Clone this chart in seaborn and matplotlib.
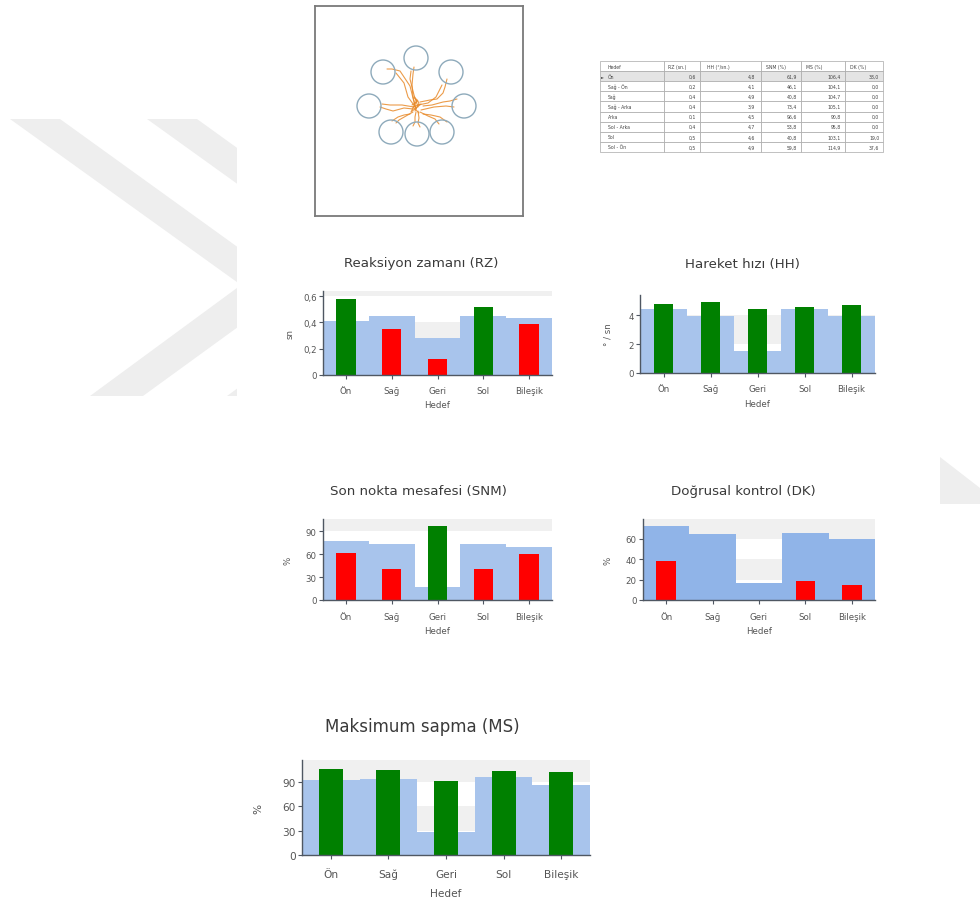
import matplotlib
matplotlib.use("Agg")
import matplotlib.pyplot as plt
from matplotlib.patches import Polygon, Rectangle, Circle
from matplotlib.ticker import FuncFormatter, FixedLocator
import numpy as np
import pandas as pd
import seaborn as sns

# ---------------------------------------------------------------- data
hedefler = ["Ön", "Sağ", "Geri", "Sol", "Bileşik"]

rz_norm = [0.41, 0.45, 0.28, 0.45, 0.43]
rz_deger = [0.58, 0.35, 0.12, 0.52, 0.39]
rz_durum = ["iyi", "zayıf", "zayıf", "iyi", "zayıf"]
rz_ticks = [0, 0.2, 0.4, 0.6]

hh_norm = [4.41, 3.95, 1.55, 4.41, 3.95]
hh_deger = [4.76, 4.92, 4.46, 4.57, 4.69]
hh_durum = ["iyi", "iyi", "iyi", "iyi", "iyi"]
hh_ticks = [0, 2, 4]

snm_norm = [77.3, 73.8, 17.6, 73.8, 69.4]
snm_deger = [61.9, 40.8, 96.6, 40.8, 59.7]
snm_durum = ["zayıf", "zayıf", "iyi", "zayıf", "zayıf"]
snm_ticks = [0, 30, 60, 90]

dk_norm = [72.1, 64.3, 16.7, 65.6, 60.0]
dk_deger = [38.0, 0.0, 0.0, 19.0, 15.1]
dk_durum = ["zayıf", "zayıf", "zayıf", "zayıf", "zayıf"]
dk_ticks = [0, 20, 40, 60]

ms_norm = [92.0, 94.1, 28.6, 96.2, 85.9]
ms_deger = [106.4, 104.7, 90.8, 103.1, 102.3]
ms_durum = ["iyi", "iyi", "iyi", "iyi", "iyi"]
ms_ticks = [0, 30, 60, 90]

# per-direction summary table
tablo_basliklar = ["Hedef", "RZ (sn.)", "HH (°/sn.)", "SNM (%)", "MS (%)", "DK (%)"]
tablo_hedefler = ["Ön", "Sağ - Ön", "Sağ", "Sağ - Arka", "Arka", "Sol - Arka", "Sol", "Sol - Ön"]
tablo_rz = ["0,6", "0,2", "0,4", "0,4", "0,1", "0,4", "0,5", "0,5"]
tablo_hh = ["4,8", "4,1", "4,9", "3,9", "4,5", "4,7", "4,6", "4,9"]
tablo_snm = ["61,9", "46,1", "40,8", "73,4", "96,6", "53,8", "40,8", "59,8"]
tablo_ms = ["106,4", "104,1", "104,7", "105,1", "90,8", "95,8", "103,1", "114,9"]
tablo_dk = ["38,0", "0,0", "0,0", "0,0", "0,0", "0,0", "19,0", "37,6"]

# target circles (centre-relative positions) and recorded cursor paths
hedef_x = [0, 35, 48, 26, 1, -25, -47, -33]
hedef_y = [51, 37, 3, -23, -25, -23, 3, 37]
hedef_r = 12
yollar = [
    [(0, 0), (-3, 12), (-4, 24), (-3, 35), (-2, 42)],
    [(2, 2), (-2, 14), (-6, 30), (-5, 38)],
    [(-1, 3), (-6, 23), (-16, 38), (-24, 40), (-29, 40)],
    [(0, 1), (-8, 12), (-12, 26), (-20, 36)],
    [(4, 7), (14, 9), (21, 10), (27, 16), (29, 22), (31, 30)],
    [(2, 4), (12, 6), (20, 12), (26, 24)],
    [(7, 3), (16, 4), (27, 7), (34, 8), (41, 10)],
    [(5, -1), (18, 2), (30, 3), (38, 2)],
    [(-3, 0), (-12, 1), (-23, -2), (-30, 0), (-36, 2)],
    [(-2, 2), (-14, 4), (-26, 4), (-34, 5)],
    [(-6, -5), (-12, -6), (-18, -8), (-24, -12)],
    [(-3, -3), (-10, -7), (-17, -11), (-20, -14)],
    [(0, -3), (-1, -8), (-1, -13), (-3, -17)],
    [(2, -2), (3, -9), (2, -14), (4, -18)],
    [(7, -5), (15, -6), (24, -8), (31, -13)],
    [(4, -3), (12, -7), (19, -10), (23, -15)],
    [(-4, 4), (2, 8), (-2, 12), (3, 6), (-1, -2)],
    [(3, -4), (-3, 2), (5, 5), (-5, -3), (1, 9)],
]

# ---------------------------------------------------------------- style
sns.set_style("white")
plt.rcParams["font.family"] = ["DejaVu Sans"]

W, H = 980, 904
fig = plt.figure(figsize=(W / 100, H / 100), dpi=100)

RENK_IYI = "#008000"
RENK_ZAYIF = "#ff0000"
BANT = "#f0f0f0"
EKSEN = "#4f5762"
YAZI = "#555555"


def kutu(x0, y0, x1, y1):
    """Pixel box (top-left origin) -> figure fraction rect."""
    return [x0 / W, 1 - y1 / H, (x1 - x0) / W, (y1 - y0) / H]


# ---------------------------------------------------------------- page backdrop
bg = fig.add_axes([0, 0, 1, 1], zorder=-10)
bg.set_xlim(0, W)
bg.set_ylim(H, 0)
bg.axis("off")
gri = "#eeeeee"
for dx in (0, 137):
    pts = [(10, 120), (60, 120), (293, 288), (143, 397), (90, 397), (241, 286)]
    bg.add_patch(Polygon([(x + dx, y) for x, y in pts], closed=True, color=gri, lw=0))
bg.add_patch(Polygon([(940, 458), (940, 505), (980, 505), (980, 489)], closed=True, color=gri, lw=0))
bg.add_patch(Rectangle((237, 0), 703, H, color="white", lw=0, zorder=5))

# ---------------------------------------------------------------- trajectory view
tax = fig.add_axes(kutu(315, 7, 523, 217))
tax.set_xlim(-101, 107)
tax.set_ylim(-107, 103)
tax.set_xticks([])
tax.set_yticks([])
for s in tax.spines.values():
    s.set_color("#7a7a7a")
    s.set_linewidth(1.3)
for yol in yollar:
    xs, ys = zip(*yol)
    sns.lineplot(x=list(xs), y=list(ys), sort=False, ax=tax, color="#e88a2a",
                 lw=0.8, alpha=0.85, estimator=None)
for hx, hy in zip(hedef_x, hedef_y):
    tax.add_patch(Circle((hx, hy), hedef_r, fill=False, ec="#8eaabb", lw=1.0, zorder=3))

# ---------------------------------------------------------------- table
tab_ax = fig.add_axes(kutu(600, 62, 883, 153))
tab_ax.axis("off")
hucreler = [[h, a, b, c, d, e] for h, a, b, c, d, e in
            zip(tablo_hedefler, tablo_rz, tablo_hh, tablo_snm, tablo_ms, tablo_dk)]
tbl = tab_ax.table(cellText=hucreler, colLabels=tablo_basliklar, bbox=[0, 0, 1, 1],
                   colWidths=[64, 36, 61, 40, 44, 38], cellLoc="right")
tbl.auto_set_font_size(False)
tbl.set_fontsize(3.3)
for (r, c), cell in tbl.get_celld().items():
    cell.set_edgecolor("#a8a8a8")
    cell.set_linewidth(0.5)
    cell.get_text().set_color("#444444")
    if r == 0 or c == 0:
        cell.get_text().set_ha("left")
        cell.PAD = 0.12
    if r == 1:
        cell.set_facecolor("#e4e4e4")
tab_ax.text(0.004, 1 - 1.5 / 9, "►", transform=tab_ax.transAxes, fontsize=2.8,
            color="#444444", ha="left", va="center")


# ---------------------------------------------------------------- bar panels
def virgul(v, _pos=None):
    return f"{v:g}".replace(".", ",")


def panel(rect, baslik, baslik_xy, baslik_fs, norm, deger, durum, ticks, bantlar,
          ylabel, ylabel_x, tick_fs, xtick_y, xlabel_y, norm_renk="#a8c4ec"):
    x0, y0, x1, y1 = rect
    ax = fig.add_axes(kutu(*rect))
    ymax = 1.1 * max(max(norm), max(deger))
    for alt, ust in bantlar:
        ax.axhspan(alt, ust, color=BANT, lw=0, zorder=0)
    sns.barplot(x=hedefler, y=norm, color=norm_renk, width=1.0, saturation=1,
                linewidth=0, edgecolor="none", ax=ax, zorder=1)
    sns.barplot(x=hedefler, y=deger, hue=durum, dodge=False, width=0.42,
                palette={"iyi": RENK_IYI, "zayıf": RENK_ZAYIF}, saturation=1,
                linewidth=0, edgecolor="none", legend=False, ax=ax, zorder=2)
    ax.set_xlim(-0.5, len(hedefler) - 0.5)
    ax.set_ylim(0, ymax)
    ax.yaxis.set_major_locator(FixedLocator(ticks))
    ax.yaxis.set_major_formatter(FuncFormatter(virgul))
    for s in ("top", "right"):
        ax.spines[s].set_visible(False)
    for s in ("left", "bottom"):
        ax.spines[s].set_color(EKSEN)
        ax.spines[s].set_linewidth(1.0)
        ax.spines[s].set_zorder(4)
    ax.tick_params(axis="both", which="major", direction="out", length=3, width=0.8,
                   color=EKSEN, labelsize=tick_fs, labelcolor=YAZI, left=True, bottom=True)
    ax.tick_params(axis="y", pad=1.5)
    hpx = y1 - y0
    ax.tick_params(axis="x", pad=(xtick_y - y1) * 0.72 - 3 - tick_fs * 0.5)
    ax.set_xlabel("Hedef", fontsize=tick_fs, color=YAZI)
    ax.xaxis.set_label_coords(0.5, -(xlabel_y - y1) / hpx)
    ax.xaxis.label.set_va("center")
    ax.set_ylabel(ylabel, fontsize=tick_fs, color=YAZI)
    ax.yaxis.set_label_coords((ylabel_x - x0) / (x1 - x0), 0.5)
    ax.yaxis.label.set_va("center")
    ax.set_title(baslik, fontsize=baslik_fs, color="#3a3a3a",
                 x=(baslik_xy[0] - x0) / (x1 - x0), y=(y1 - baslik_xy[1]) / hpx,
                 va="center", ha="center")
    return ax


panel((323, 292, 552, 376), "Reaksiyon zamanı (RZ)", (421, 272), 9.6,
      rz_norm, rz_deger, rz_durum, rz_ticks, [(0.2, 0.4), (0.6, 0.8)],
      "sn", 290, 6.2, 391, 406)
panel((640, 296, 875, 374), "Hareket hızı (HH)", (742, 273), 9.6,
      hh_norm, hh_deger, hh_durum, hh_ticks, [(2, 4)],
      "° / sn", 608, 6.2, 389, 405)
panel((323, 520, 552, 601), "Son nokta mesafesi (SNM)", (418, 500), 9.6,
      snm_norm, snm_deger, snm_durum, snm_ticks, [(90, 120)],
      "%", 288, 6.2, 617, 632)
panel((643, 520, 875, 601), "Doğrusal kontrol (DK)", (743, 500), 9.6,
      dk_norm, dk_deger, dk_durum, dk_ticks, [(20, 40), (60, 80)],
      "%", 608, 6.2, 617, 632, norm_renk="#90b4e8")
panel((302, 761, 590, 856), "Maksimum sapma (MS)", (422, 735), 12.0,
      ms_norm, ms_deger, ms_durum, ms_ticks, [(30, 60), (90, 120)],
      "%", 258, 7.6, 875, 894)

fig.savefig("out.png", dpi=100, facecolor="white")
